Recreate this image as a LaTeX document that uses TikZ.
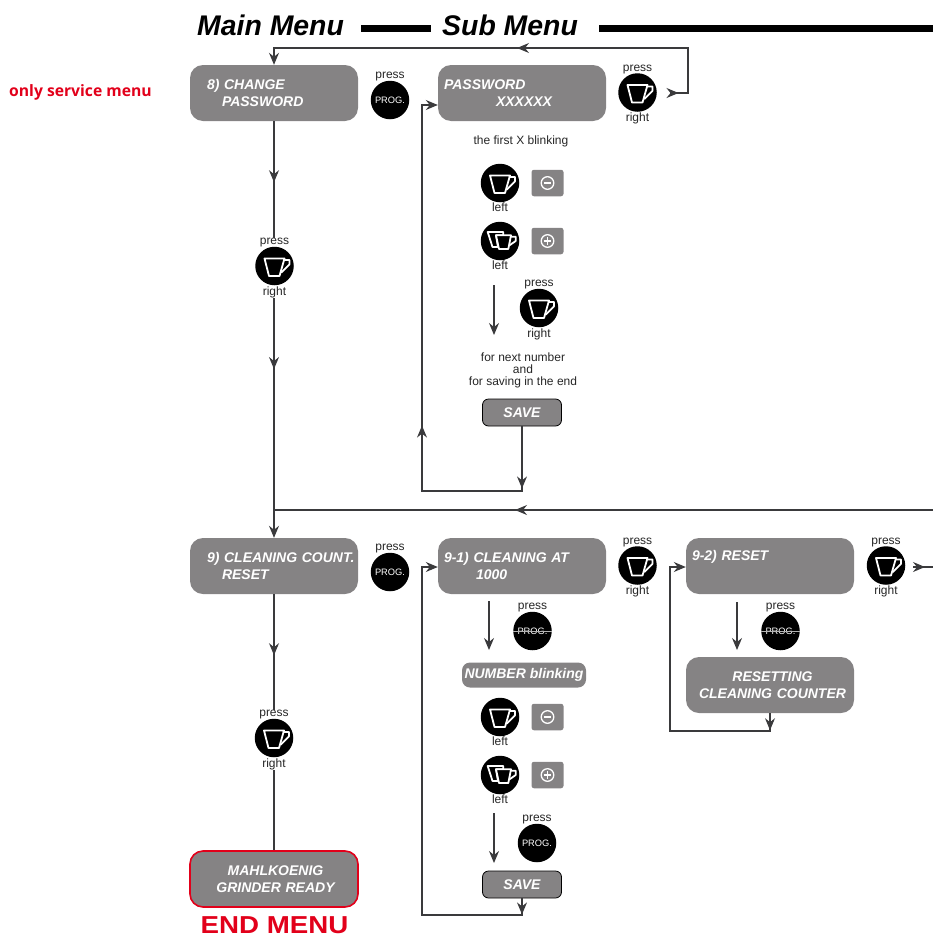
\documentclass[tikz,border=0pt]{standalone}
\usepackage{fontspec}
\setmainfont{Liberation Sans}
\newfontfamily\redfont{Open Sans}
\usepackage{tikz}
\usetikzlibrary{positioning,arrows.meta,decorations.markings}

\definecolor{boxgray}{HTML}{858384}
\definecolor{linegray}{HTML}{3A3A3C}
\definecolor{menured}{HTML}{E2001A}

\tikzset{
	flow/.style={draw=linegray,line width=1.1pt},
	tip/.style={-{Stealth[length=12pt,width=10pt,inset=4pt]}},
	midtip/.style={postaction={decorate,decoration={markings,mark=at position #1 with {\arrow{Stealth[length=12pt,width=10pt,inset=4pt]}}}}},
	menubox/.style={fill=boxgray,rounded corners=13pt,minimum height=56pt,text width=164pt,inner xsep=2pt,inner ysep=0pt,align=left,text=white,font=\fontsize{14}{17}\selectfont\bfseries\itshape},
	midbox/.style={menubox,align=center},
	savebox/.style={draw=black,line width=0.8pt,fill=boxgray,rounded corners=6pt,minimum width=79pt,minimum height=27pt,inner sep=0pt,text=white,font=\fontsize{14}{17}\selectfont\bfseries\itshape},
	button/.style={circle,fill=black,minimum size=38.5pt,inner sep=0pt,text=white,font=\fontsize{9.3}{11}\selectfont},
	small/.style={inner sep=0pt,align=center,font=\fontsize{12}{12}\selectfont,text=black!85},
	signbox/.style={fill=boxgray,rounded corners=2.5pt,minimum width=32pt,minimum height=26.5pt,inner sep=0pt},
	title/.style={inner sep=0pt,font=\fontsize{28.4}{28}\selectfont\bfseries\itshape},
	bar/.style={fill=black},
	cupline/.style={white,line width=1.8pt,line join=round},
	cup/.pic={
		\draw[cupline] (-10,-7.5) -- (10,-7.5) -- (5,10) -- (-5.5,10) -- cycle;
		\draw[cupline] (9.7,-6) -- (15,-6) -- (15,-1.7) -- (6.7,6.7);
	},
	twocups/.pic={
		\draw[cupline] (-12.3,-9) -- (3.3,-9) -- (3.3,-5.7) -- (-4,-5.7) -- (-2,6) -- (-7.5,6) -- cycle;
		\draw[cupline,fill=black] (-4,-5.7) -- (11,-5.7) -- (8.3,8) -- (-1,8) -- cycle;
		\draw[cupline] (10.8,-4.3) -- (15.7,-4.3) -- (15.7,0) -- (9.5,4.3);
	},
	minussign/.pic={
		\draw[white,line width=1.3pt] (0,0) circle (6.3);
		\draw[white,line width=1.3pt] (-3.6,0) -- (3.6,0);
	},
	plussign/.pic={
		\draw[white,line width=1.3pt] (0,0) circle (6.3);
		\draw[white,line width=1.3pt] (-3.6,0) -- (3.6,0) (0,-3.6) -- (0,3.6);
	},
}

\begin{document}
\begin{tikzpicture}[x=1pt,y=-1pt]
	\useasboundingbox (0,0) rectangle (933,940);

	% headings
	\node[title,anchor=west] (mainmenu) at (197,25) {Main Menu};
	\node[title,anchor=west] (submenu) at (442,25) {Sub Menu};
	\fill[bar] (361,25) rectangle (431,32);
	\fill[bar] (599,25) rectangle (933,32);
	\node[anchor=west,inner sep=0pt,text=menured,font=\redfont\fontsize{15.7}{16}\selectfont\bfseries] (service) at (9,92) {only service menu};

	% main menu
	\node[menubox] (change) at (274,93) {\hspace*{15pt}8) CHANGE\\\hspace*{30pt}PASSWORD};
	\node[menubox] (count) at (274,566) {\hspace*{15pt}9) CLEANING COUNT.\\\hspace*{30pt}RESET};
	\node[midbox,draw=menured,line width=1.6pt] (ready) at (274,879) {\hspace*{3pt}MAHLKOENIG\\\hspace*{3pt}GRINDER READY};
	\node[inner sep=0pt,text=menured,font=\fontsize{24.5}{28}\selectfont\bfseries] (endmenu) at (274.5,925) {\scalebox{1.13}[1]{END MENU}};

	% sub menu
	\node[menubox] (password) at (522,93) {\hspace*{4pt}PASSWORD\\\hspace*{56pt}XXXXXX};
	\node[menubox] (cleanat) at (522,566) {\hspace*{4pt}9-1) CLEANING AT\\\hspace*{36pt}1000};
	\node[menubox] (reset) at (770,566) {\hspace*{4pt}9-2) RESET\\\strut};
	\node[midbox] (resetting) at (770,685) {\hspace*{5pt}RESETTING\\\hspace*{5pt}CLEANING COUNTER};
	\node[fill=boxgray,rounded corners=8pt,minimum width=124pt,minimum height=25pt,inner sep=0pt,text=white,font=\fontsize{14}{17}\selectfont\bfseries\itshape] (blinking) at (524,675) {NUMBER blinking};
	\node[savebox] (saveone) at (522,412.5) {SAVE};
	\node[savebox] (savetwo) at (522,884.5) {SAVE};

	% buttons with prog
	\foreach \x/\y/\z in
	{progone/390/100, progtwo/390/572, progthree/532.5/631, progfour/780.5/631, progfive/537/843}{
		\node[button] (\x) at (\y,\z) {PROG.};
		\node[small,above=-1pt of \x] (\x press) {press};
	}
	\draw[white!70!black,line width=0.4pt] (progthree.west) -- (progthree.east);
	\draw[white!70!black,line width=0.4pt] (progfour.west) -- (progfour.east);

	% buttons with cup, right
	\foreach \x/\y/\z in
	{cupone/637.5/92.5, cuptwo/539/308, cupthree/274.5/266, cupfour/637.5/565.5, cupfive/886/565.5, cupsix/274/738}{
		\node[button] (\x) at (\y,\z) {};
		\pic at (\x) {cup};
		\node[small,above=-1pt of \x] (\x press) {press};
		\node[small,below=1pt of \x] (\x right) {right};
	}

	% buttons with cup, left
	\foreach \x/\z in
	{minusone/183, minustwo/717}{
		\node[button] (\x) at (500,\z) {};
		\pic at (\x) {cup};
		\node[small,below=0pt of \x] (\x left) {left};
		\node[signbox] (\x sign) at (547.5,\z) {};
		\pic at (\x sign) {minussign};
	}
	\foreach \x/\z in
	{plusone/241, plustwo/775}{
		\node[button] (\x) at (500,\z) {};
		\pic at (\x) {twocups};
		\node[small,below=0pt of \x] (\x left) {left};
		\node[signbox] (\x sign) at (547.5,\z) {};
		\pic at (\x sign) {plussign};
	}

	% notes
	\node[small] (firstx) at (521,141) {the first X blinking};
	\node[small] (nextnumber) at (523,370) {for next number\\and\\for saving in the end};

	% free ends
	\foreach \x/\y/\z in
	{a/494/285, b/494/335, c/489/601, d/489/650, e/737/602, f/737/650, g/494/813, h/494/863,
		i/670/93, j/688/48, k/933/510, l/913/567, m/933/567}{
		\coordinate (\x) at (\y,\z);
	}

	% down arrows without a box
	\foreach \x/\y in
	{a/b, c/d, e/f, g/h}{
		\draw[flow,tip] (\x) -- (\y);
	}

	% main line
	\draw[flow,midtip=61pt] (change) -- (change |- cupthreepress.north);
	\draw[flow,midtip=71pt,tip] (change |- cupthreeright.south) -- (count);
	\draw[flow,midtip=418pt] (k) -- (count |- k);
	\draw[flow,midtip=61pt] (count) -- (count |- cupsixpress.north);
	\draw[flow] (count |- cupsixright.south) -- (ready);
	\draw[flow,tip,midtip=8.5pt,midtip=234pt] (i) -- (j |- i) -- (j) -- (change |- j) -- (change);

	% back to the sub menu box
	\draw[flow,tip,midtip=62pt,midtip=230pt] (saveone) -- (saveone |- 0,491) -- (422,491) -- (422,105) -- (password.west |- 0,105);
	\draw[flow,tip,midtip=16pt] (savetwo) -- (savetwo |- 0,915) -- (422,915) -- (422,567) -- (cleanat.west |- 0,567);
	\draw[flow,tip,midtip=17pt] (resetting) -- (resetting |- 0,731) -- (670,731) -- (670,567) -- (reset.west |- 0,567);
	\draw[flow,midtip=12pt] (l) -- (m);
\end{tikzpicture}
\end{document}
